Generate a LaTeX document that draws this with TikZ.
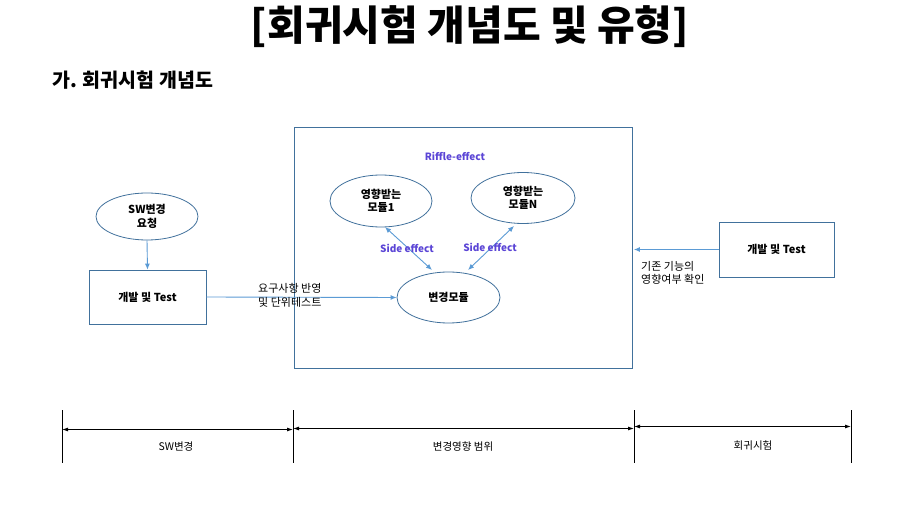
\documentclass[tikz,border=0pt]{standalone}
\usepackage{fontspec}
\setmainfont{Noto Sans CJK KR}
\usetikzlibrary{arrows.meta,shapes.geometric}
\definecolor{edge}{HTML}{41719C}
\definecolor{arr}{HTML}{5B9BD5}
\definecolor{purp}{HTML}{5B45D6}
\tikzset{
  ell/.style={ellipse, draw=edge, line width=0.8pt, minimum width=#1, inner sep=0pt, font=\fontsize{11}{13.5}\selectfont\bfseries, align=center},
  ell/.default=102pt,
  boxn/.style={rectangle, draw=edge, line width=0.8pt, inner sep=0pt, font=\fontsize{11}{13.5}\selectfont\bfseries, align=center},
  barrow/.style={draw=arr, line width=0.9pt, -{Latex[length=6pt,width=5pt]}},
  dbarrow/.style={draw=arr, line width=0.9pt, {Latex[length=6pt,width=5pt]}-{Latex[length=6pt,width=5pt]}},
  kbarrow/.style={draw=black, line width=0.9pt, {Latex[length=6pt,width=4pt]}-{Latex[length=6pt,width=4pt]}},
  lbl/.style={font=\fontsize{11}{13.5}\selectfont, align=left, inner sep=0pt},
  plbl/.style={font=\fontsize{10}{12}\selectfont\bfseries, text=purp, inner sep=0pt},
  blbl/.style={font=\fontsize{10.5}{12}\selectfont, inner sep=0pt}
}
\begin{document}
\begin{tikzpicture}[x=1pt,y=-1pt]
\useasboundingbox (0,0) rectangle (910,518);
\fill[white] (0,0) rectangle (910,518);
% titles
\node[font=\fontsize{41}{44}\selectfont\bfseries, inner sep=0pt] (title) at (470,27) {[회귀시험 개념도 및 유형]};
\node[font=\fontsize{19.5}{22}\selectfont\bfseries, anchor=west, inner sep=0pt] (sub) at (52,80) {가. 회귀시험 개념도};
% big area box
\node[draw=edge, line width=0.8pt, minimum width=338pt, minimum height=241pt, inner sep=0pt] (area) at (463,247.5) {};
\node[plbl] (riffle) at (455,156) {Riffle-effect};
% ellipses inside
\node[ell=102pt, minimum height=52pt] (m1) at (381,201) {영향받는\\모듈1};
\node[ell=104pt, minimum height=51pt] (mn) at (523,198) {영향받는\\모듈N};
\node[ell=103pt, minimum height=51pt] (chg) at (448.5,297.5) {변경모듈};
\draw[dbarrow] (385,227) coordinate (a1) -- (432,270) coordinate (a2);
\draw[dbarrow] (468,270) coordinate (b1) -- (514,226) coordinate (b2);
\node[plbl] (se1) at (407,248) {Side effect};
\node[plbl] (se2) at (490,247) {Side effect};
% left side
\node[ell=102pt, minimum height=47pt] (req) at (147,216.5) {SW변경\\요청};
\node[boxn, minimum width=117pt, minimum height=54pt] (dev1) at (147.5,297) {개발 및 Test};
\draw[barrow] (req.south) -- (dev1.north);
\draw[barrow] (dev1.east) -- (chg.west);
\node[lbl, anchor=west] (reqlbl) at (258,295.5) {요구사항 반영\\및 단위테스트};
% right side
\node[boxn, minimum width=115pt, minimum height=55pt] (dev2) at (776.5,249.5) {개발 및 Test};
\coordinate (areaR) at (area.east |- dev2.west);
\draw[barrow] (dev2.west) -- ([xshift=1.5pt]areaR);
\node[lbl, anchor=west] (chklbl) at (641,273) {기존 기능의\\영향여부 확인};
% bottom scale
\coordinate (t1) at (62,410); \coordinate (b1x) at (62,463);
\coordinate (t2) at (293,410); \coordinate (b2x) at (293,463);
\coordinate (t3) at (634,410); \coordinate (b3x) at (634,463);
\coordinate (t4) at (851,410); \coordinate (b4x) at (851,463);
\draw[line width=0.8pt] (t1) -- (b1x) (t2) -- (b2x) (t3) -- (b3x) (t4) -- (b4x);
\coordinate (s1) at (62,429.5); \coordinate (s2) at (293,429.5);
\coordinate (s3) at (293,428.5); \coordinate (s4) at (634,428.5);
\coordinate (s5) at (634,426.5); \coordinate (s6) at (851,426.5);
\draw[kbarrow] (s1) -- (s2);
\draw[kbarrow] (s3) -- (s4);
\draw[kbarrow] (s5) -- (s6);
\node[blbl] (l1) at (176,447) {SW변경};
\node[blbl] (l2) at (463,447) {변경영향 범위};
\node[blbl] (l3) at (753,446) {회귀시험};
\end{tikzpicture}
\end{document}
